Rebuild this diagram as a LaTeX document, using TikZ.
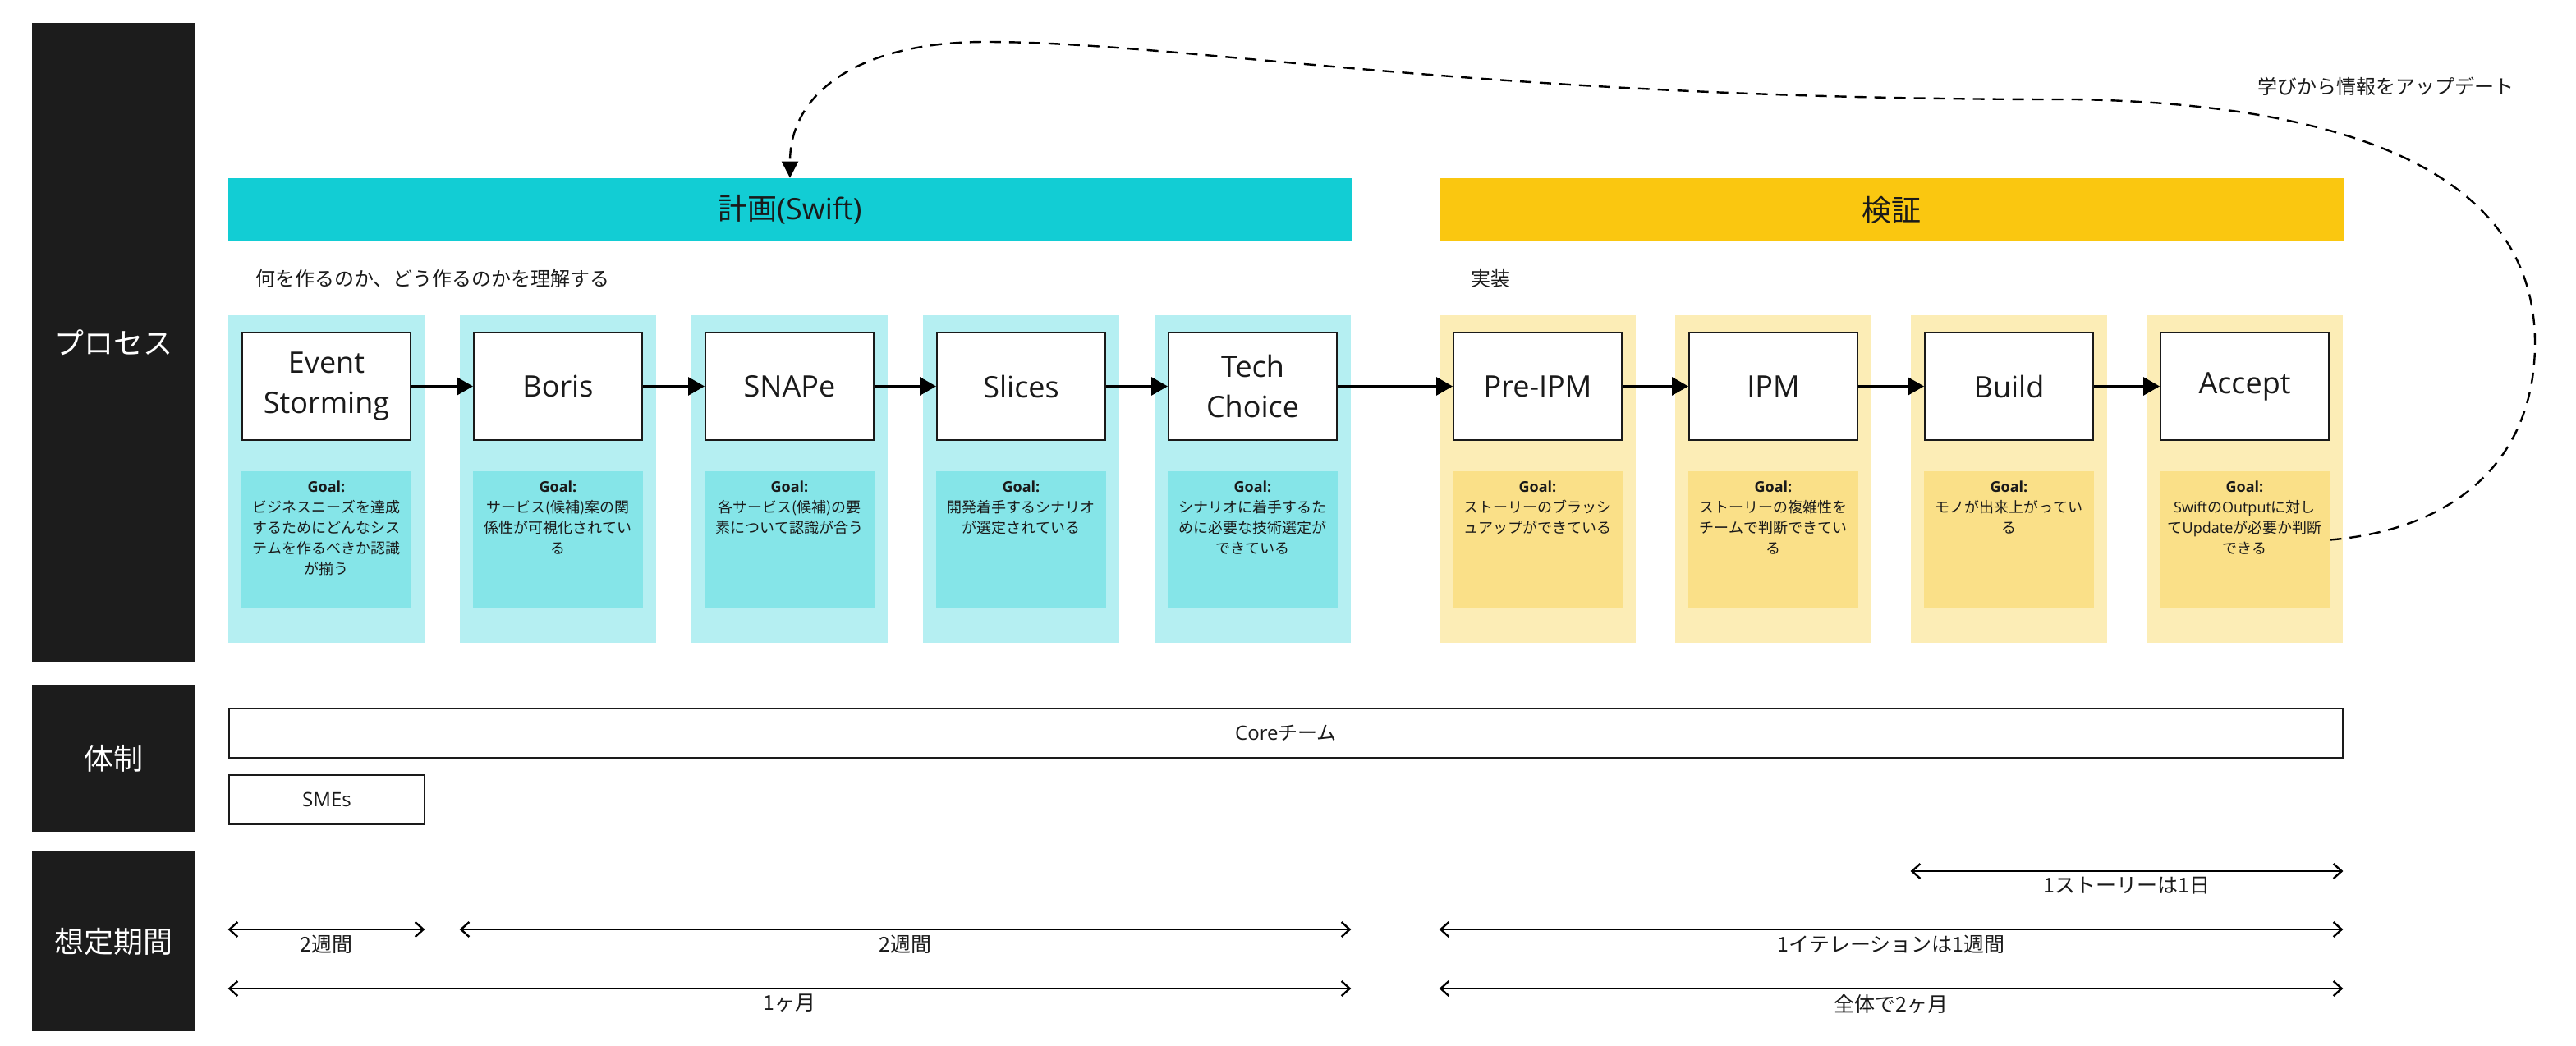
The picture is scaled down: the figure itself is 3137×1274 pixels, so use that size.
\documentclass[tikz,border=0pt]{standalone}
\usepackage{fontspec}
\setmainfont{Noto Sans CJK JP}
\newfontfamily\os{Open Sans}
\usetikzlibrary{positioning,arrows.meta,calc}

\definecolor{lanegray}{HTML}{1C1C1C}
\definecolor{inkgray}{HTML}{1A1A1A}
\definecolor{plancyan}{HTML}{12CDD4}
\definecolor{plancol}{HTML}{B5EFF2}
\definecolor{plangoal}{HTML}{85E5E8}
\definecolor{veriyellow}{HTML}{FAC710}
\definecolor{vericol}{HTML}{FCEDB6}
\definecolor{verigoal}{HTML}{FAE088}

\tikzset{
	lane/.style={fill=lanegray, text=white, minimum width=99pt, inner sep=0pt, font=\fontsize{18}{22}\selectfont},
	phase/.style={minimum width=#1, minimum height=38.5pt, inner sep=0pt, text=inkgray, font=\fontsize{18}{22}\selectfont},
	phasecol/.style={minimum width=119.5pt, minimum height=199.5pt, inner sep=0pt},
	stepbox/.style={draw=inkgray, line width=1pt, fill=white, minimum width=102.5pt, minimum height=65.8pt, inner sep=0pt, align=center, text=inkgray, font=\os\fontsize{18}{24.5}\selectfont},
	goalbox/.style={minimum width=103.5pt, minimum height=83.5pt, inner sep=0pt},
	goaltext/.style={anchor=north, align=center, inner sep=0pt, text=inkgray, font=\fontsize{9}{12.5}\selectfont},
	memo/.style={inner sep=0pt, text=inkgray, font=\fontsize{12}{15}\selectfont},
	teambox/.style={draw=inkgray, line width=1pt, minimum height=30pt, inner sep=0pt, text=inkgray, font=\fontsize{12}{15}\selectfont},
	flow/.style={-{Triangle[length=10pt,width=11pt]}, line width=1.5pt},
	period/.style={{Straight Barb[length=5pt,width=9pt]}-{Straight Barb[length=5pt,width=9pt]}, line width=1.2pt},
	periodlabel/.style={below=3pt, midway, inner sep=0pt, text=inkgray, font=\fontsize{12.5}{15}\selectfont},
	feedback/.style={-{Triangle[length=10pt,width=10pt]}, line width=1.2pt, dash pattern=on 7pt off 5pt},
}

\begin{document}
\begin{tikzpicture}[x=0.5pt, y=-0.5pt]
	\useasboundingbox (0,0) rectangle (3137,1274);
	
	\foreach \lbl/\yc/\h [count=\i] in {プロセス/417/389pt, 体制/923.5/89.5pt, 想定期間/1146.5/109.5pt}
	\node [lane, minimum height=\h] (lane-\i) at (138,\yc) {\lbl};
	
	\node [phase=684pt, fill=plancyan] (plan) at (962,255.5) {計画{\os(Swift)}};
	\node [phase=550.5pt, fill=veriyellow] (verify) at (2303.5,255.5) {検証};
	
	\node [memo, anchor=west] (plan-memo) at (311,339) {何を作るのか、どう作るのかを理解する};
	\node [memo, anchor=west] (verify-memo) at (1791,339) {実装};
	
	% 計画
	\foreach \step/\goal [count=\i] in {
		{Event\\Storming}/{ビジネスニーズを達成\\するためにどんなシス\\テムを作るべきか認識\\が揃う},
		{Boris}/{サービス(候補)案の関\\係性が可視化されてい\\る},
		{SNAPe}/{各サービス(候補)の要\\素について認識が合う},
		{Slices}/{開発着手するシナリオ\\が選定されている},
		{Tech\\Choice}/{シナリオに着手するた\\めに必要な技術選定が\\できている}}
	{
		\node [phasecol, fill=plancol] (col-\i) at ({397.5+282*(\i-1)},583.5) {};
		\node [stepbox] (step-\i) at ({397.5+282*(\i-1)},470.5) {\step};
		\node [goalbox, fill=plangoal] (goal-\i) at ({397.5+282*(\i-1)},657.5) {};
		\node [goaltext] (goaltxt-\i) at ([yshift=-6pt]goal-\i.north) {{\os\bfseries Goal:}\\\goal};
	}
	
	% 検証
	\foreach \step/\goal [count=\i from 6] in {
		{Pre-IPM}/{ストーリーのブラッシ\\ュアップができている},
		{IPM}/{ストーリーの複雑性を\\チームで判断できてい\\る},
		{Build}/{モノが出来上がってい\\る},
		{Accept}/{{\os Swift}の{\os Output}に対し\\て{\os Update}が必要か判断\\できる}}
	{
		\node [phasecol, fill=vericol] (col-\i) at ({1872.5+287*(\i-6)},583.5) {};
		\node [stepbox] (step-\i) at ({1872.5+287*(\i-6)},470.5) {\step};
		\node [goalbox, fill=verigoal] (goal-\i) at ({1872.5+287*(\i-6)},657.5) {};
		\node [goaltext] (goaltxt-\i) at ([yshift=-6pt]goal-\i.north) {{\os\bfseries Goal:}\\\goal};
	}
	
	\foreach \i [count=\j from 2] in {1,...,8}
	\draw [flow] (step-\i) -- (step-\j);
	
	\draw [feedback] (goal-9.east) .. controls (2990,645) and (3087,560) .. (3087,418)
		.. controls (3087,230) and (2900,128) .. (2528,121)
		.. controls (1800,122) and (1450,51) .. (1200,51)
		.. controls (1050,51) and (962,110) .. (plan.north);
	\node [memo] (feedback-label) at (2905,105) {学びから情報をアップデート};
	
	% 体制
	\node [teambox, minimum width=1287pt] (core) at (1566,893) {{\os Core}チーム};
	\node [teambox, minimum width=119pt] (smes) at (398,974) {\os SMEs};
	
	% 想定期間
	\coordinate (row-day) at (0,1061);
	\coordinate (row-week) at (0,1132);
	\coordinate (row-month) at (0,1204);
	
	\draw [period] (col-8.west |- row-day) -- (col-9.east |- row-day)
	node [periodlabel] {1ストーリーは1日};
	\draw [period] (col-1.west |- row-week) -- (col-1.east |- row-week)
	node [periodlabel] {2週間};
	\draw [period] (col-2.west |- row-week) -- (col-5.east |- row-week)
	node [periodlabel] {2週間};
	\draw [period] (col-6.west |- row-week) -- (col-9.east |- row-week)
	node [periodlabel] {1イテレーションは1週間};
	\draw [period] (col-1.west |- row-month) -- (col-5.east |- row-month)
	node [periodlabel] {1ヶ月};
	\draw [period] (col-6.west |- row-month) -- (col-9.east |- row-month)
	node [periodlabel] {全体で2ヶ月};
	
\end{tikzpicture}
\end{document}
